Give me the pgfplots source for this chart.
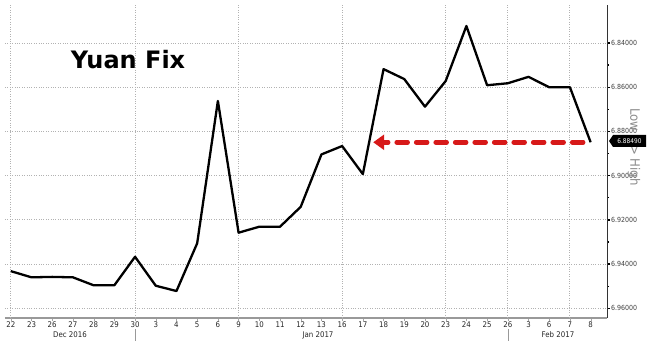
\documentclass[border=0pt]{standalone}
\usepackage{fontspec}
\setmainfont{DejaVu Sans}[FakeStretch=0.9]
\newfontfamily\titlefont{DejaVu Sans}
\usepackage{pgfplots}
\pgfplotsset{compat=1.18}
\usetikzlibrary{arrows.meta}
\definecolor{arrowred}{RGB}{215,25,25}
\begin{document}
\begin{tikzpicture}
\path[use as bounding box] (0,0) rectangle (660pt,356pt);
\begin{axis}[
  at={(5pt,38pt)}, anchor=south west,
  scale only axis, width=602pt, height=313pt,
  xmin=-0.28, xmax=28.79,
  ymin=6.8228, ymax=6.9644,
  y dir=reverse,
  axis x line*=bottom, axis y line*=right,
  x axis line style={-, draw=gray!80, line width=1.6pt},
  y axis line style={-, draw=black!80, line width=1pt},
  xtick={0,...,28},
  xticklabels={22,23,26,27,28,29,30,3,4,5,6,9,10,11,12,13,16,17,18,19,20,23,24,25,26,3,6,7,8},
  x tick label style={font=\fontsize{7.8}{8}\selectfont, text=black!85, inner sep=1pt},
  ytick={6.84,6.86,6.88,6.90,6.92,6.94,6.96},
  minor y tick num=1,
  y tick label style={font=\fontsize{7}{8}\selectfont, text=black!75, inner sep=1pt,
    /pgf/number format/fixed, /pgf/number format/precision=5,
    /pgf/number format/zerofill},
  /pgf/number format/assume math mode=true,
  tick align=outside,
  xtick style={draw=gray!70},
  ytick style={draw=black, line width=1.3pt},
  major tick length=3pt, minor tick length=2pt,
  minor tick style={line width=0.6pt},
  ymajorgrids=true,
  major grid style={dotted, draw=gray!60, line width=0.9pt},
  extra x ticks={0,6,11,16,21,24,27},
  extra x tick labels={},
  extra x tick style={grid=major, tick style={draw=none}},
  clip=false,
]
\addplot[black, line width=2.3pt, line join=round] coordinates {
(0,6.9432) (1,6.9460) (2,6.9458) (3,6.9460) (4,6.9496) (5,6.9496) (6,6.9367)
(7,6.9498) (8,6.9522) (9,6.9306) (10,6.8662) (11,6.9258) (12,6.9231) (13,6.9231)
(14,6.9141) (15,6.8904) (16,6.8866) (17,6.8993) (18,6.8518) (19,6.8563) (20,6.8688)
(21,6.8572) (22,6.8323) (23,6.8591) (24,6.8582) (25,6.8553) (26,6.8600) (27,6.8600)
(28,6.8849)};
\addplot[draw=arrowred, line width=4.5pt, dash pattern=on 11pt off 8.5pt, line cap=round,
  -{Triangle[length=11pt,width=15pt]}] coordinates {(27.64,6.8849) (17.5,6.8849)};
\end{axis}
\node[font=\titlefont\bfseries\fontsize{24}{28}\selectfont, text=black] at (128pt,296pt) {Yuan Fix};
\node[rotate=-90, text=black!45, font=\fontsize{13}{14}\selectfont] at (634pt,209pt) {Low => High};
\fill[black] (609pt,215pt) -- (613pt,221pt) -- (646pt,221pt) -- (646pt,209pt) -- (613pt,209pt) -- cycle;
\node[text=white, font=\fontsize{6.5}{7}\selectfont, inner sep=0pt] at (629.5pt,215pt) {6.88490};
\node[font=\fontsize{7.8}{8}\selectfont, text=black!85] at (70pt,21pt) {Dec 2016};
\node[font=\fontsize{7.8}{8}\selectfont, text=black!85] at (318pt,21pt) {Jan 2017};
\node[font=\fontsize{7.8}{8}\selectfont, text=black!85] at (558pt,21pt) {Feb 2017};
\draw[gray!80, line width=0.8pt] (135pt,27pt) -- (135pt,15pt);
\draw[gray!80, line width=0.8pt] (508pt,27pt) -- (508pt,15pt);
\end{tikzpicture}
\end{document}
